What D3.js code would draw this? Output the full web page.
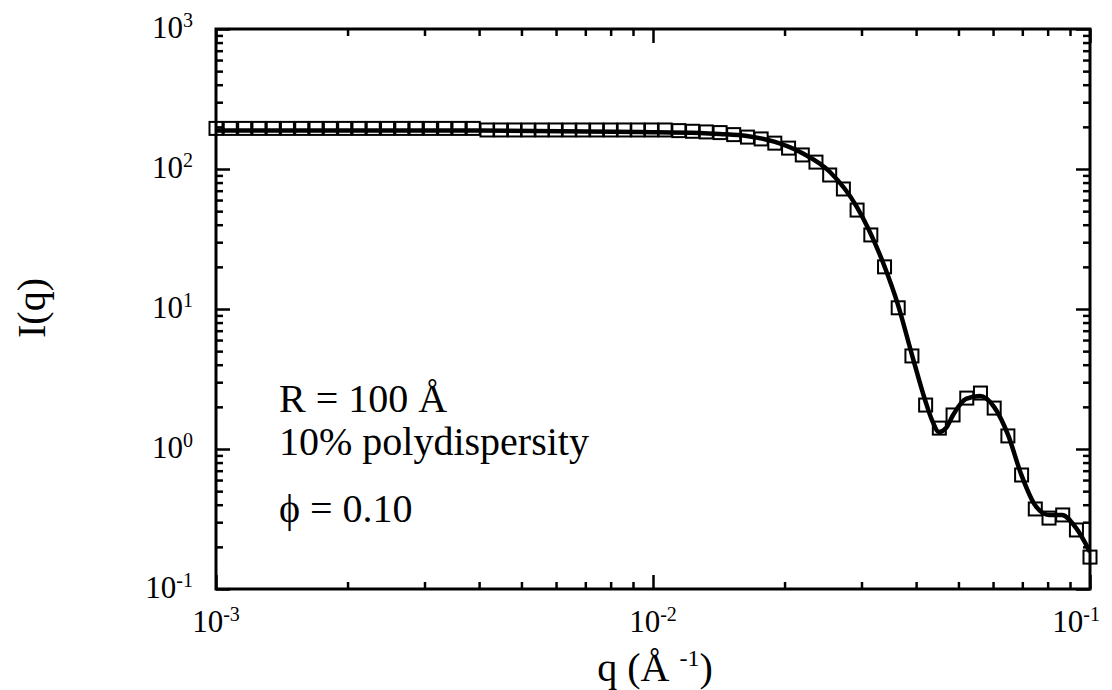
<!DOCTYPE html>
<html>
<head>
<meta charset="utf-8">
<script src="https://cdn.jsdelivr.net/npm/d3@7"></script>
<style>
  body { margin: 0; background: #fff; }
  svg { display: block; }
  svg text { font-family: "Liberation Serif", "Times New Roman", Times, "DejaVu Serif", serif; }
</style>
</head>
<body>
<svg width="1112" height="690"></svg>
<script>
// low-q data set
const qLow = [0.00100, 0.001078, 0.001163, 0.001254, 0.001352, 0.001457, 0.001571, 0.001694, 0.001827,
    0.001970, 0.002124, 0.002290, 0.002469, 0.002662, 0.002870, 0.003095, 0.003337, 0.003598, 0.003879];
const iLow = [195, 195, 195, 195, 195, 195, 195, 195, 195,
    195, 195, 195, 195, 195, 195, 195, 195, 195, 195];

// high-q data set
const qHigh = [0.00417, 0.00448, 0.00482, 0.00518, 0.00557, 0.00598, 0.00643, 0.00691, 0.00743, 0.00799,
    0.00859, 0.00923, 0.00992, 0.01066, 0.01146, 0.01232, 0.01324, 0.01424, 0.01530, 0.01645,
    0.01768, 0.01900, 0.02043, 0.02196, 0.02360, 0.02537, 0.02727, 0.02931, 0.03151, 0.03387,
    0.03640, 0.03913, 0.04206, 0.04521, 0.04860, 0.05224, 0.05615, 0.06036, 0.06488, 0.06974,
    0.07496, 0.08058, 0.08661, 0.09310, 0.1000];
const iHigh = [190, 190, 190, 190, 190, 190, 190, 190, 190, 190,
    190, 190, 190, 190, 188, 186, 184, 182, 176, 169,
    164, 153, 141, 126, 112, 90.6, 72.0, 50.9, 33.8, 20.0,
    10.2, 4.62, 2.06, 1.41, 1.75, 2.31, 2.51, 1.96, 1.24, 0.652,
    0.373, 0.321, 0.338, 0.264, 0.169];

// model fit
const qFit = [0.001, 0.004, 0.00934, 0.01281, 0.01423, 0.01641, 0.01902, 0.02193, 0.02541, 0.02929,
    0.03377, 0.03636, 0.03915, 0.04193, 0.04349, 0.04513, 0.04684, 0.04860, 0.05203, 0.05601,
    0.06031, 0.06494, 0.06953, 0.07482, 0.08057, 0.08627, 0.09290, 0.1];
const iFit = [188, 188, 184, 181, 178, 172, 156, 130, 95.2, 53.5,
    20.6, 10.7, 4.69, 2.24, 1.61, 1.32, 1.41, 1.75, 2.28, 2.39,
    2.00, 1.26, 0.663, 0.398, 0.338, 0.338, 0.273, 0.184];

const xMajor = [1e-3, 1e-2, 1e-1];
const xExp = ["-3", "-2", "-1"];
const yMajor = [1e-1, 1, 10, 100, 1000];
const yExp = ["-1", "0", "1", "2", "3"];

const svg = d3.select("svg");

const plotL = 216, plotR = 1090, plotT = 29, plotB = 589;
const x = d3.scaleLog().domain([1e-3, 1e-1]).range([plotL, plotR]);
const y = d3.scaleLog().domain([1e-1, 1e3]).range([plotB, plotT]);

function minorTicks(domain) {
    const out = [];
    for (let e = Math.round(Math.log10(domain[0])); e < Math.round(Math.log10(domain[1])); e++) {
        for (let m = 2; m <= 9; m++) out.push(m * Math.pow(10, e));
    }
    return out;
}
const xMinor = minorTicks(x.domain());
const yMinor = minorTicks(y.domain());

function addAxis(axis, tr, values, size) {
    svg.append("g")
        .attr("transform", tr)
        .call(axis.tickValues(values).tickSize(size).tickFormat(""))
        .call(g => g.select(".domain").remove())
        .call(g => g.selectAll("line").attr("stroke", "#000").attr("stroke-width", 2.5));
}

addAxis(d3.axisBottom(x), `translate(0,${plotB})`, xMajor, -14);
addAxis(d3.axisBottom(x), `translate(0,${plotB})`, xMinor, -7);
addAxis(d3.axisTop(x), `translate(0,${plotT})`, xMajor, -14);
addAxis(d3.axisTop(x), `translate(0,${plotT})`, xMinor, -7);
addAxis(d3.axisLeft(y), `translate(${plotL},0)`, yMajor, -14);
addAxis(d3.axisLeft(y), `translate(${plotL},0)`, yMinor, -7);
addAxis(d3.axisRight(y), `translate(${plotR},0)`, yMajor, -14);
addAxis(d3.axisRight(y), `translate(${plotR},0)`, yMinor, -7);

// frame
svg.append("rect")
    .attr("x", plotL).attr("y", plotT)
    .attr("width", plotR - plotL).attr("height", plotB - plotT)
    .attr("fill", "none").attr("stroke", "#000").attr("stroke-width", 3);

// tick labels
xMajor.forEach((v, i) => {
    const last = i === xMajor.length - 1;
    const t = svg.append("text")
        .attr("x", last ? 1100 : x(v))
        .attr("y", 632)
        .attr("text-anchor", last ? "end" : "middle");
    t.append("tspan").attr("font-size", 31).text("10");
    t.append("tspan").attr("font-size", 20).attr("dy", -11).text(xExp[i]);
});

yMajor.forEach((v, i) => {
    const t = svg.append("text")
        .attr("x", 193)
        .attr("y", y(v) + 9)
        .attr("text-anchor", "end");
    t.append("tspan").attr("font-size", 31).text("10");
    t.append("tspan").attr("font-size", 20).attr("dy", -11).text(yExp[i]);
});

// axis titles
const xt = svg.append("text")
    .attr("x", 655).attr("y", 681)
    .attr("text-anchor", "middle");
xt.append("tspan").attr("font-size", 40).text("q (Å ");
xt.append("tspan").attr("font-size", 24).attr("dy", -15).text("-1");
xt.append("tspan").attr("font-size", 40).attr("dy", 15).text(")");

svg.append("text")
    .attr("transform", "translate(45,308) rotate(-90)")
    .attr("text-anchor", "middle")
    .attr("font-size", 40)
    .text("I(q)");

// fit line
const fitPts = qFit.map((q, i) => [q, iFit[i]]);
const line = d3.line()
    .x(d => x(d[0]))
    .y(d => y(d[1]))
    .curve(d3.curveMonotoneX);

svg.append("path")
    .datum(fitPts)
    .attr("d", line)
    .attr("fill", "none")
    .attr("stroke", "#000")
    .attr("stroke-width", 4.5)
    .attr("stroke-linejoin", "round");

// markers
const pts = qLow.map((q, i) => [q, iLow[i]]).concat(qHigh.map((q, i) => [q, iHigh[i]]));
svg.append("g")
    .selectAll("rect")
    .data(pts)
    .enter().append("rect")
    .attr("x", d => x(d[0]) - 6.5)
    .attr("y", d => y(d[1]) - 6.5)
    .attr("width", 13)
    .attr("height", 13)
    .attr("fill", "none")
    .attr("stroke", "#000")
    .attr("stroke-width", 2);

// annotation
const note = [["R = 100 Å", 412], ["10% polydispersity", 455], ["ϕ = 0.10", 522]];
note.forEach(n => {
    svg.append("text")
        .attr("x", 279).attr("y", n[1])
        .attr("font-size", 40)
        .text(n[0]);
});
</script>
</body>
</html>
